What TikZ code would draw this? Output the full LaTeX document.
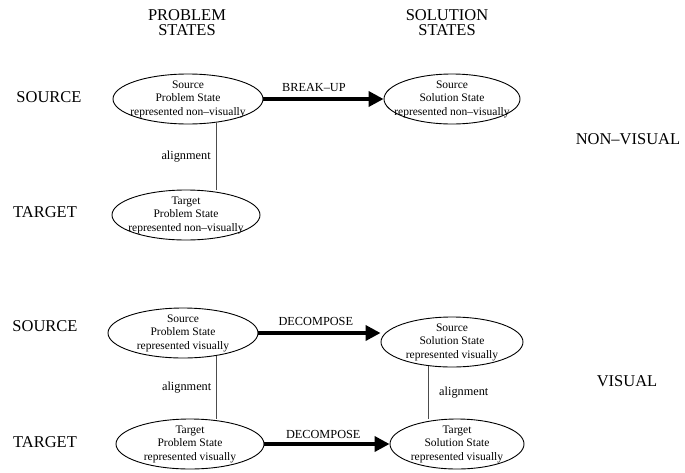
\documentclass[tikz,border=0pt]{standalone}
\usepackage{fontspec}
\setmainfont{Liberation Serif}
\usetikzlibrary{shapes.geometric,arrows.meta}

\tikzset{
  state/.style={draw=black, line width=0.9pt, ellipse, inner sep=0pt,
    minimum width=150pt, minimum height=50pt},
  statetext/.style={align=center, inner sep=0pt,
    font=\fontsize{11.5}{13.5}\selectfont},
  heading/.style={align=center, inner sep=0pt,
    font=\fontsize{16.5}{15}\selectfont},
  side/.style={inner sep=0pt, font=\fontsize{16.5}{18}\selectfont},
  move/.style={line width=3.6pt, -{Triangle[length=15pt,width=15pt]}},
  moveword/.style={inner sep=0pt, font=\fontsize{12.3}{14}\selectfont},
  align line/.style={draw=black!70, line width=0.9pt},
}

\begin{document}
\begin{tikzpicture}[x=1pt, y=-1pt]
  \useasboundingbox (0,0) rectangle (685,472);

  % column headings
  \node[heading] (hprob) at (187,23) {PROBLEM\\STATES};
  \node[heading] (hsol)  at (447,23) {SOLUTION\\STATES};

  % row labels
  \node[side] (src1) at (49,97)  {SOURCE};
  \node[side] (tgt1) at (45,212) {TARGET};
  \node[side] (src2) at (45,326) {SOURCE};
  \node[side] (tgt2) at (45,442) {TARGET};
  \node[side] (nonvis) at (628,139) {NON–VISUAL};
  \node[side] (vis)    at (627,381) {VISUAL};

  % non-visual states
  \node[state, label={[statetext]center:Source\\Problem State\\represented non–visually}]
    (spn) at (188,99) {};
  \node[state, minimum width=136pt,
        label={[statetext]center:Source\\Solution State\\represented non–visually}]
    (ssn) at (452,99) {};
  \node[state, minimum width=148pt,
        label={[statetext]center:Target\\Problem State\\represented non–visually}]
    (tpn) at (186,215) {};

  % visual states
  \node[state, label={[statetext]center:Source\\Problem State\\represented visually}]
    (spv) at (183,333) {};
  \node[state, minimum width=142pt,
        label={[statetext]center:Source\\Solution State\\represented visually}]
    (ssv) at (452,342) {};
  \node[state, minimum width=148pt,
        label={[statetext]center:Target\\Problem State\\represented visually}]
    (tpv) at (190,444) {};
  \node[state, minimum width=134pt,
        label={[statetext]center:Target\\Solution State\\represented visually}]
    (tsv) at (457,444) {};

  % transformations
  \draw[move] (spn.east) -- (ssn.west)
    node[moveword, pos=0.42, above=6pt] {BREAK–UP};
  \draw[move] (spv.east) -- (spv.east -| ssv.west)
    node[moveword, pos=0.47, above=6pt] {DECOMPOSE};
  \draw[move] (tpv.east) -- (tsv.west)
    node[moveword, pos=0.47, above=4pt] {DECOMPOSE};

  % alignments
  \draw[align line] (spn.-40) -- (spn.-40 |- tpn.north)
    node[moveword, midway, left=5pt] {alignment};
  \draw[align line] (spv.-34) -- (spv.-34 |- tpv.north)
    node[moveword, midway, left=5pt] {alignment};
  \draw[align line] (ssv.-134) -- (ssv.-134 |- tsv.north)
    node[moveword, midway, right=10pt] {alignment};
\end{tikzpicture}
\end{document}
